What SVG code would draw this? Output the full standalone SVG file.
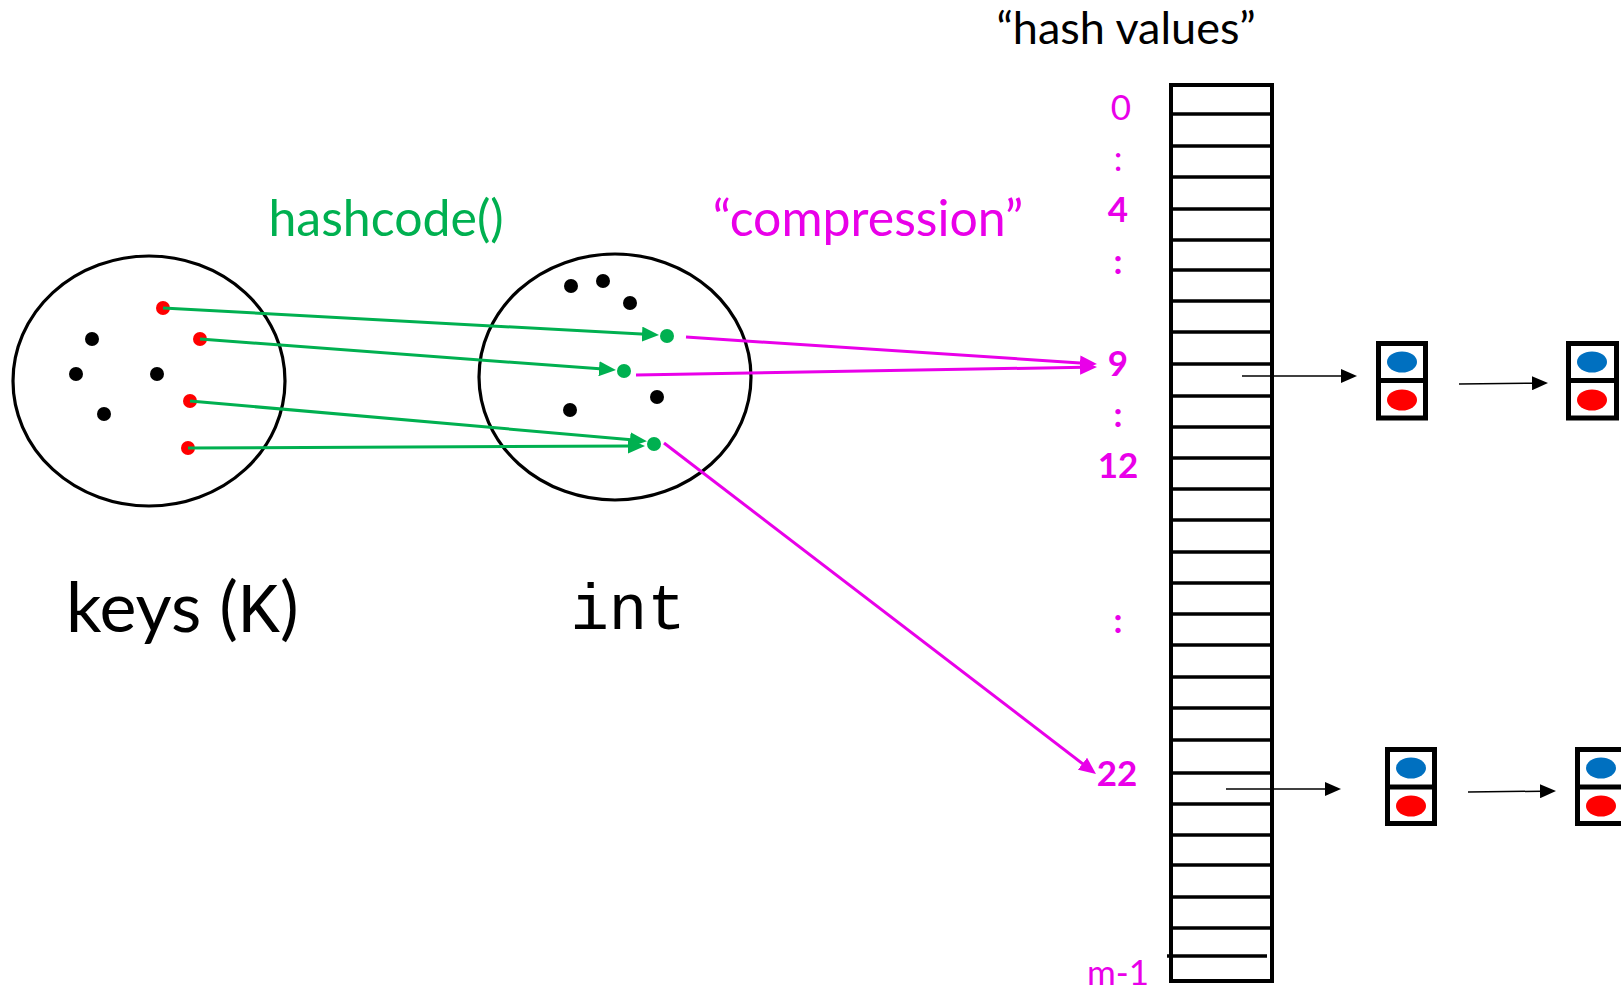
<svg xmlns="http://www.w3.org/2000/svg" width="1621" height="993" viewBox="0 0 1621 993">
  <style>
    .set { fill: none; stroke: #000; stroke-width: 3.2; }
    .dot-k { fill: #000; }
    .dot-r { fill: #FF0000; }
    .dot-g { fill: #00B050; }
    .hc { fill: none; stroke: #00B050; stroke-width: 3; marker-end: url(#ah-green); }
    .cp { fill: none; stroke: #E900E9; stroke-width: 3; marker-end: url(#ah-mag); }
    .ptr { fill: none; stroke: #000; stroke-width: 1.5; marker-end: url(#ah-black); }
    .table { fill: #fff; stroke: #000; stroke-width: 4; }
    .slot { stroke: #000; stroke-width: 3.5; }
    .cell { fill: #fff; stroke: #000; stroke-width: 5; }
    .div { stroke: #000; stroke-width: 5; }
    .blue { fill: #0070C0; }
    .red { fill: #FF0000; }
    .sans { font-family: Lato, "Open Sans", "Liberation Sans", sans-serif; }
    .mono { font-family: "Liberation Mono", "DejaVu Sans Mono", monospace; }
    .idx { font-family: Lato, "Liberation Sans", sans-serif; font-size: 35px; fill: #E900E9; text-anchor: middle; }
    .idx-b { font-weight: bold; }
  </style>
  <defs>
    <marker id="ah-green" viewBox="0 0 17 15" refX="4" refY="7.5" markerWidth="17" markerHeight="15" markerUnits="userSpaceOnUse" orient="auto">
      <path d="M0,0 L17,7.5 L0,15 Z" fill="#00B050"/>
    </marker>
    <marker id="ah-mag" viewBox="0 0 17 15" refX="4" refY="7.5" markerWidth="17" markerHeight="15" markerUnits="userSpaceOnUse" orient="auto">
      <path d="M0,0 L17,7.5 L0,15 Z" fill="#E900E9"/>
    </marker>
    <marker id="ah-black" viewBox="0 0 16 14" refX="2" refY="7" markerWidth="16" markerHeight="14" markerUnits="userSpaceOnUse" orient="auto">
      <path d="M0,0 L16,7 L0,14 Z" fill="#000"/>
    </marker>
  </defs>

  <rect width="1621" height="993" fill="#fff"/>

  <!-- set of keys -->
  <g id="keys-set">
    <ellipse class="set" cx="149" cy="381" rx="136" ry="125"/>
    <circle class="dot-k" cx="92" cy="339" r="7"/>
    <circle class="dot-k" cx="76" cy="374" r="7"/>
    <circle class="dot-k" cx="157" cy="374" r="7"/>
    <circle class="dot-k" cx="104" cy="414" r="7"/>
    <circle class="dot-r" cx="163" cy="308" r="7"/>
    <circle class="dot-r" cx="200" cy="339" r="7"/>
    <circle class="dot-r" cx="190" cy="401" r="7"/>
    <circle class="dot-r" cx="188" cy="448" r="7"/>
    <text class="sans" x="66" y="632" font-size="70">keys (<tspan class="mono">K</tspan>)</text>
  </g>

  <!-- set of ints -->
  <g id="int-set">
    <ellipse class="set" cx="615" cy="377" rx="136" ry="123"/>
    <circle class="dot-k" cx="571" cy="286" r="7"/>
    <circle class="dot-k" cx="603" cy="281" r="7"/>
    <circle class="dot-k" cx="630" cy="303" r="7"/>
    <circle class="dot-k" cx="657" cy="397" r="7"/>
    <circle class="dot-k" cx="570" cy="410" r="7"/>
    <circle class="dot-g" cx="667" cy="336" r="7"/>
    <circle class="dot-g" cx="624" cy="371" r="7"/>
    <circle class="dot-g" cx="654" cy="444" r="7"/>
    <text class="mono" x="628" y="629" font-size="64" text-anchor="middle">int</text>
  </g>

  <!-- function labels -->
  <g id="label-hashcode">
    <text class="sans" x="386" y="236" font-size="50" fill="#00B050" text-anchor="middle">hashcode()</text>
  </g>
  <g id="label-compression">
    <text class="sans" x="868" y="236" font-size="50" fill="#E900E9" text-anchor="middle">“compression”</text>
  </g>
  <g id="label-hash-values">
    <text class="sans" x="1126" y="44" font-size="45" fill="#000" text-anchor="middle">“hash values”</text>
  </g>

  <!-- bucket array -->
  <g id="hash-table">
    <rect class="table" x="1171" y="85" width="101" height="896"/>
    <line class="slot" x1="1171" y1="114" x2="1271" y2="114"/>
    <line class="slot" x1="1171" y1="146" x2="1270" y2="146"/>
    <line class="slot" x1="1171" y1="177" x2="1272" y2="177"/>
    <line class="slot" x1="1171" y1="209" x2="1270" y2="209"/>
    <line class="slot" x1="1171" y1="240" x2="1272" y2="240"/>
    <line class="slot" x1="1171" y1="270" x2="1272" y2="270"/>
    <line class="slot" x1="1171" y1="301" x2="1272" y2="301"/>
    <line class="slot" x1="1171" y1="332" x2="1272" y2="332"/>
    <line class="slot" x1="1171" y1="364" x2="1270" y2="364"/>
    <line class="slot" x1="1171" y1="396" x2="1272" y2="396"/>
    <line class="slot" x1="1171" y1="427" x2="1270" y2="427"/>
    <line class="slot" x1="1171" y1="458" x2="1272" y2="458"/>
    <line class="slot" x1="1171" y1="489" x2="1270" y2="489"/>
    <line class="slot" x1="1171" y1="520" x2="1272" y2="520"/>
    <line class="slot" x1="1171" y1="552" x2="1270" y2="552"/>
    <line class="slot" x1="1171" y1="583" x2="1272" y2="583"/>
    <line class="slot" x1="1171" y1="614" x2="1270" y2="614"/>
    <line class="slot" x1="1171" y1="645" x2="1272" y2="645"/>
    <line class="slot" x1="1171" y1="677" x2="1270" y2="677"/>
    <line class="slot" x1="1171" y1="708" x2="1272" y2="708"/>
    <line class="slot" x1="1171" y1="740" x2="1270" y2="740"/>
    <line class="slot" x1="1171" y1="773" x2="1270" y2="773"/>
    <line class="slot" x1="1171" y1="804" x2="1272" y2="804"/>
    <line class="slot" x1="1171" y1="835" x2="1270" y2="835"/>
    <line class="slot" x1="1171" y1="865" x2="1271" y2="865"/>
    <line class="slot" x1="1171" y1="897" x2="1270" y2="897"/>
    <line class="slot" x1="1171" y1="928" x2="1272" y2="928"/>
    <line class="slot" x1="1167" y1="956" x2="1267" y2="956"/>
  </g>

  <!-- slot indices -->
  <g id="indices">
    <text class="idx" x="1121" y="120" font-size="37">0</text>
    <text class="idx" x="1118" y="171">:</text>
    <text class="idx idx-b" x="1118" y="222">4</text>
    <text class="idx idx-b" x="1118" y="274">:</text>
    <text class="idx idx-b" x="1118" y="376">9</text>
    <text class="idx idx-b" x="1118" y="427">:</text>
    <text class="idx idx-b" x="1118" y="478">12</text>
    <text class="idx idx-b" x="1118" y="633">:</text>
    <text class="idx idx-b" x="1117" y="786">22</text>
    <text class="idx" x="1118" y="985">m-1</text>
  </g>

  <!-- chain entries for slot 9 -->
  <g id="entry-9a">
    <rect class="cell" x="1378.5" y="343.5" width="47" height="74.5"/>
    <line class="div" x1="1378.5" y1="380.5" x2="1425.5" y2="380.5"/>
    <ellipse class="blue" cx="1402" cy="362" rx="15" ry="10.5"/>
    <ellipse class="red" cx="1402" cy="400" rx="15" ry="10.5"/>
  </g>
  <g id="entry-9b">
    <rect class="cell" x="1568.5" y="343.5" width="48" height="74.5"/>
    <line class="div" x1="1568.5" y1="380.5" x2="1616.5" y2="380.5"/>
    <ellipse class="blue" cx="1592" cy="362" rx="15" ry="10.5"/>
    <ellipse class="red" cx="1592" cy="400" rx="15" ry="10.5"/>
  </g>

  <!-- chain entries for slot 22 -->
  <g id="entry-22a">
    <rect class="cell" x="1387.5" y="749.5" width="47" height="74"/>
    <line class="div" x1="1387.5" y1="787" x2="1434.5" y2="787"/>
    <ellipse class="blue" cx="1411" cy="768" rx="15" ry="10.5"/>
    <ellipse class="red" cx="1411" cy="806" rx="15" ry="10.5"/>
  </g>
  <g id="entry-22b">
    <rect class="cell" x="1577.5" y="749.5" width="47" height="74"/>
    <line class="div" x1="1577.5" y1="787" x2="1624.5" y2="787"/>
    <ellipse class="blue" cx="1601" cy="768" rx="15" ry="10.5"/>
    <ellipse class="red" cx="1601" cy="806" rx="15" ry="10.5"/>
  </g>

  <!-- connectors -->
  <g id="connectors">
    <line class="hc" x1="163" y1="308" x2="646" y2="334.3"/>
    <line class="hc" x1="200" y1="339" x2="603" y2="369.1"/>
    <line class="hc" x1="190" y1="401" x2="634" y2="440"/>
    <line class="hc" x1="188" y1="448" x2="632" y2="446"/>
    <line class="cp" x1="686" y1="337" x2="1084" y2="363.2"/>
    <line class="cp" x1="636" y1="375" x2="1084" y2="367.2"/>
    <line class="cp" x1="664" y1="443" x2="1085.7" y2="766.1"/>
    <line class="ptr" x1="1242" y1="376" x2="1343" y2="376"/>
    <line class="ptr" x1="1459" y1="384" x2="1534" y2="383.2"/>
    <line class="ptr" x1="1226" y1="789" x2="1327" y2="789"/>
    <line class="ptr" x1="1468" y1="792" x2="1542" y2="791.2"/>
  </g>
</svg>
